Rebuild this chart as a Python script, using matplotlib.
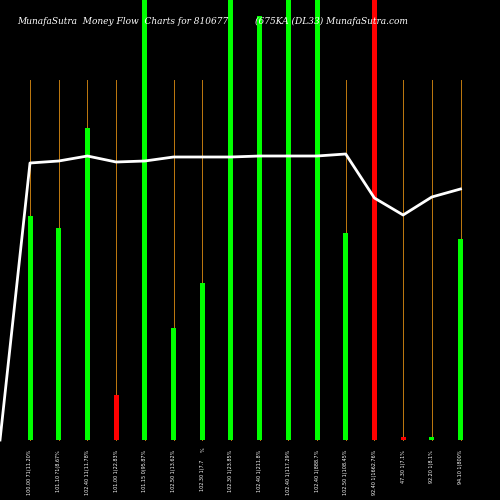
import matplotlib
matplotlib.use("Agg")
import matplotlib.pyplot as plt

# bar heights in chart units (0 = baseline, 440 = top of figure)
bar_heights = [224, 212, 312, 45, 440, 112, 157, 440, 424, 440, 440, 207, 440, 3, 2, 201]
bar_colors = ["lime", "lime", "lime", "red", "lime", "lime", "lime", "lime",
              "lime", "lime", "lime", "lime", "red", "red", "lime", "lime"]
line_values = [277, 279, 284, 278, 279, 283, 283, 283, 284, 284, 284, 286, 242, 225, 243, 251]
labels = ["100.00 71(11.20%", "101.10 ?1(8.67%", "102.40 11(11.78%", "101.00 1(22.83%",
          "101.15 0(95.87%", "102.50 1(13.62%", "102.30 1(7.7", "102.30 1(23.85%",
          "102.40 1(211.8%", "102.40 1(117.29%", "102.40 1(888.7%", "102.50 1(108.45%",
          "92.40 1(1662.76%", "47.30 1(7.1%", "92.20 1(8.1%", "94.10 1(800%"]

xs = [30 + i * 28.7 for i in range(len(bar_heights))]

fig = plt.figure(figsize=(5, 5), dpi=100, facecolor="black")
ax = fig.add_axes([0, 0, 1, 1], facecolor="black")
ax.set_xlim(0, 500)
ax.set_ylim(-60, 440)
ax.axis("off")

for x, h, c in zip(xs, bar_heights, bar_colors):
    ax.plot([x, x], [0, 360], color="#c07a10", lw=0.7, zorder=1)
    ax.bar(x, max(h, 3), width=5, bottom=0, color=c, zorder=2)

ax.plot([0] + xs, [0] + line_values, color="white", lw=2, zorder=3)

for i, (x, lab) in enumerate(zip(xs, labels)):
    top = -20 if i == 6 else -10
    ax.text(x, top, lab, color="white", fontsize=3.5, rotation=90,
            ha="center", va="top", zorder=4)
ax.text(203, -7, "%", color="white", fontsize=3.5, rotation=90, ha="center", va="top")

fig.text(0.035, 0.952, "MunafaSutra  Money Flow  Charts for 810677", color="white",
         fontsize=6.5, style="italic", family="DejaVu Serif")
fig.text(0.51, 0.952, "(675KA (DL33) MunafaSutra.com", color="white",
         fontsize=6.5, style="italic", family="DejaVu Serif")

fig.savefig("out.png", dpi=100, facecolor="black")
